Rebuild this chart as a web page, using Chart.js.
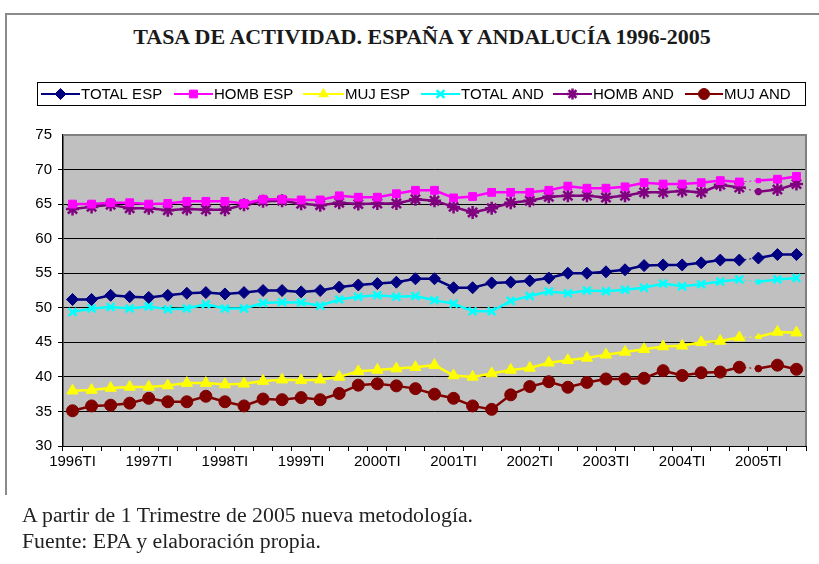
<!DOCTYPE html>
<html>
<head>
<meta charset="utf-8">
<script src="https://cdn.jsdelivr.net/npm/chart.js@4"></script>
<style>
  html,body{margin:0;padding:0;background:#fff;}
  #wrap{position:relative;width:819px;height:564px;overflow:hidden;}
  #frame{position:absolute;left:5px;top:13px;width:900px;height:480px;border-top:2px solid #8a8a8a;border-left:2px solid #8a8a8a;}
  #title{position:absolute;left:0;top:24px;width:844px;text-align:center;font:bold 22px "Liberation Serif","Times New Roman",serif;color:#1a1a1a;}
  #note{position:absolute;left:22px;top:502px;font:20px "Liberation Serif","Times New Roman",serif;line-height:26px;color:#222;
        transform:scaleX(1.09);transform-origin:0 0;}
  canvas{position:absolute;left:0;top:0;}
</style>
</head>
<body>
<div id="wrap">
  <div id="frame"></div>
  <div id="title">TASA DE ACTIVIDAD. ESPAÑA Y ANDALUCÍA 1996-2005</div>
  <canvas id="c" width="819" height="564"></canvas>
  <div id="note">A partir de 1 Trimestre de 2005 nueva metodología.<br>Fuente: EPA y elaboración propia.</div>
</div>
<script>
// quarters 1996TI .. 2005TIII
const quarters = [
  '1996TI','1996TII','1996TIII','1996TIV',
  '1997TI','1997TII','1997TIII','1997TIV',
  '1998TI','1998TII','1998TIII','1998TIV',
  '1999TI','1999TII','1999TIII','1999TIV',
  '2000TI','2000TII','2000TIII','2000TIV',
  '2001TI','2001TII','2001TIII','2001TIV',
  '2002TI','2002TII','2002TIII','2002TIV',
  '2003TI','2003TII','2003TIII','2003TIV',
  '2004TI','2004TII','2004TIII','2004TIV',
  '2005TI','2005TII','2005TIII'
];
const shownLabels = ['1996TI','1997TI','1998TI','1999TI','2000TI','2001TI','2002TI','2003TI','2004TI','2005TI'];
const yTicks = [30,35,40,45,50,55,60,65,70,75];

const totalEsp = [51.2,51.2,51.8,51.6,51.5,51.8,52.1,52.2,52.0,52.2,52.5,52.5,52.3,52.5,53.0,53.3,53.5,53.7,54.2,54.2,
                  52.9,52.9,53.6,53.7,53.9,54.3,55.0,55.0,55.2,55.5,56.1,56.2,56.2,56.5,56.9,56.9,57.2,57.7,57.7];
const hombEsp  = [65.0,65.0,65.2,65.2,65.0,65.1,65.4,65.4,65.4,65.1,65.7,65.7,65.6,65.6,66.2,66.0,66.0,66.5,67.0,67.0,
                  65.9,66.1,66.7,66.7,66.7,67.0,67.6,67.3,67.3,67.5,68.1,67.9,67.9,68.1,68.4,68.2,68.4,68.6,69.0];
const mujEsp   = [38.0,38.1,38.4,38.55,38.55,38.75,39.1,39.1,38.9,39.0,39.4,39.6,39.5,39.6,40.0,40.8,41.0,41.2,41.4,41.7,
                  40.2,40.0,40.5,41.0,41.3,42.05,42.4,42.75,43.2,43.6,44.0,44.4,44.5,45.0,45.2,45.7,45.8,46.5,46.4];
const totalAnd = [49.4,49.9,50.1,49.9,50.2,49.8,49.9,50.5,49.9,49.9,50.7,50.8,50.75,50.3,51.2,51.6,51.8,51.6,51.7,51.1,
                  50.6,49.5,49.5,51.0,51.7,52.35,52.1,52.5,52.4,52.6,52.9,53.5,53.1,53.4,53.8,54.1,53.75,54.1,54.3];
const hombAnd  = [64.3,64.6,64.9,64.4,64.4,64.1,64.3,64.2,64.2,64.9,65.4,65.5,65.05,64.85,65.2,65.0,65.1,65.1,65.7,65.5,
                  64.6,63.8,64.4,65.2,65.5,66.05,66.2,66.2,65.95,66.2,66.7,66.7,66.9,66.7,67.8,67.4,66.8,67.1,67.9];
const mujAnd   = [35.1,35.8,35.9,36.2,36.9,36.4,36.4,37.2,36.4,35.8,36.8,36.7,37.0,36.7,37.6,38.8,39.0,38.7,38.3,37.5,
                  36.9,35.8,35.3,37.4,38.6,39.3,38.5,39.2,39.7,39.7,39.8,40.9,40.2,40.6,40.7,41.4,41.2,41.7,41.1];

const BREAK = 35; // 2004TIV -> 2005TI, methodology change

function series(label, data, color, style, r, bw, smallAtBreak){
  return {
    label, data,
    borderColor: color, backgroundColor: color,
    borderWidth: 2.5, pointStyle: style,
    pointRadius: data.map((v,i)=> (smallAtBreak && i===BREAK+1) ? r*0.55 : r),
    pointHoverRadius: r,
    pointBorderWidth: bw, pointBackgroundColor: color, pointBorderColor: color,
    tension: 0,
    segment: {
      borderDash: ctx => ctx.p0DataIndex===BREAK ? [2,3] : undefined,
      borderWidth: ctx => ctx.p0DataIndex===BREAK ? 1 : undefined
    }
  };
}

const datasets = [
  series('TOTAL ESP', totalEsp, '#000080', 'rectRot', 6,   1, false),
  series('HOMB ESP',  hombEsp,  '#FF00FF', 'rect',    5.5, 1, true),
  series('MUJ ESP',   mujEsp,   '#FFFF00', 'triangle',6.5, 1, true),
  series('TOTAL AND', totalAnd, '#00FFFF', 'crossRot',5.5, 2.5, true),
  series('HOMB AND',  hombAnd,  '#800080', 'star',    6.5, 2.5, true),
  series('MUJ AND',   mujAnd,   '#800000', 'circle',  6,   1, true)
];

// legend item positions (line start x, line end x)
const legendPos = [[41,80],[174,213],[303,344],[421,460],[553,592],[685,723]];

const plotBg = {
  id:'plotBg',
  beforeDraw(chart){
    const {ctx, chartArea:a} = chart;
    ctx.save(); ctx.fillStyle='#C0C0C0';
    ctx.fillRect(a.left, a.top, a.right-a.left, a.bottom-a.top);
    ctx.restore();
  },
  beforeDatasetsDraw(chart){
    const {ctx, chartArea:a} = chart;
    ctx.save(); ctx.strokeStyle='#808080'; ctx.lineWidth=2;
    ctx.beginPath();
    ctx.moveTo(a.left, a.top); ctx.lineTo(a.right, a.top); ctx.lineTo(a.right, a.bottom);
    ctx.stroke(); ctx.restore();
  },
  afterDraw(chart){
    // custom legend box
    const ctx = chart.ctx;
    ctx.save();
    ctx.strokeStyle='#000'; ctx.lineWidth=1;
    ctx.strokeRect(37.5, 82.5, 768, 23);
    ctx.font='15px "Liberation Sans", Arial, sans-serif';
    ctx.textBaseline='middle'; ctx.fillStyle='#000';
    const y = 94;
    chart.data.datasets.forEach((ds,i)=>{
      const [x1,x2] = legendPos[i];
      ctx.strokeStyle=ds.borderColor; ctx.lineWidth=2;
      ctx.beginPath(); ctx.moveTo(x1,y); ctx.lineTo(x2,y); ctx.stroke();
      ctx.fillStyle=ds.borderColor; ctx.strokeStyle=ds.borderColor; ctx.lineWidth=ds.pointBorderWidth;
      Chart.helpers.drawPoint(ctx, {pointStyle:ds.pointStyle, radius:5.5, rotation:0, borderWidth:ds.pointBorderWidth}, (x1+x2)/2, y);
      ctx.fillStyle='#000';
      ctx.fillText(ds.label, x2+1, y+1);
    });
    ctx.restore();
  }
};

new Chart(document.getElementById('c'), {
  type:'line',
  data:{labels:quarters, datasets},
  plugins:[plotBg],
  options:{
    responsive:false, animation:false,
    layout:{padding:{top:135, left:18, right:13, bottom:88}},
    plugins:{legend:{display:false}, title:{display:false}, tooltip:{enabled:false}},
    scales:{
      x:{
        type:'category', offset:true,
        grid:{offset:true, drawOnChartArea:false, drawTicks:true, tickLength:5, color:'#000'},
        border:{display:true, color:'#000', width:1},
        ticks:{autoSkip:false, maxRotation:0, minRotation:0, padding:2, color:'#000',
               font:{family:'"Liberation Sans", Arial, sans-serif', size:15},
               callback:(v,i)=> shownLabels.includes(quarters[i]) ? quarters[i] : ''},
        afterFit:s=>{ s.height = 30; }
      },
      y:{
        min:yTicks[0], max:yTicks[yTicks.length-1],
        afterBuildTicks:s=>{ s.ticks = yTicks.map(v=>({value:v})); },
        grid:{color:c=> c.tick && c.tick.value===75 ? 'rgba(0,0,0,0)' : '#000', lineWidth:1, tickLength:5},
        border:{display:true, color:'#000', width:1.5},
        ticks:{padding:6, color:'#000', font:{family:'"Liberation Sans", Arial, sans-serif', size:15}},
        afterFit:s=>{ s.width = 45; }
      }
    }
  }
});
</script>
</body>
</html>
